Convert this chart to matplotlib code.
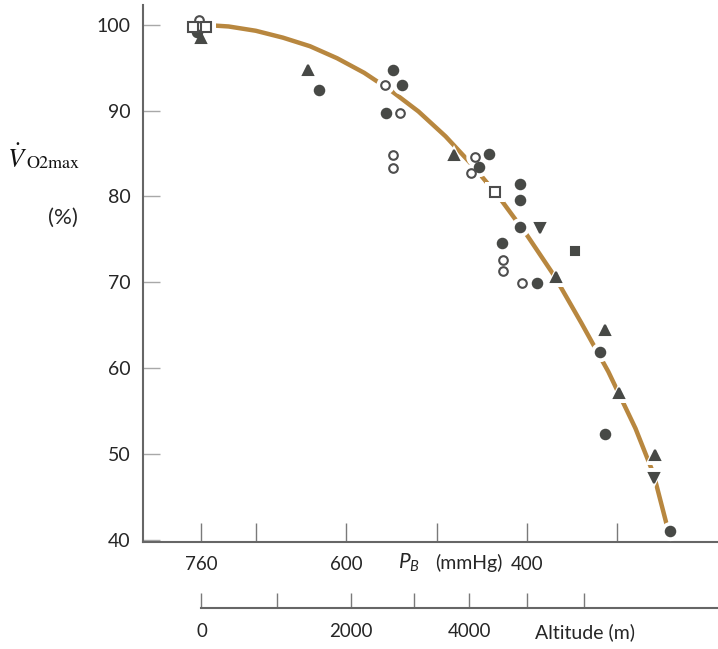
import matplotlib
matplotlib.use("Agg")
import matplotlib.pyplot as plt

plt.rcParams['font.family'] = ['Lato', 'DejaVu Sans']
plt.rcParams['mathtext.fontset'] = 'custom'
plt.rcParams['mathtext.it'] = 'Lato:italic'
plt.rcParams['mathtext.rm'] = 'Lato'
plt.rcParams['mathtext.bf'] = 'Lato:bold'

# Fitted curve: barometric pressure (mmHg) vs VO2max (% of sea-level value)
curve_pb = [760, 730, 700, 670, 640, 610, 580, 550, 520, 490, 460, 430, 400,
            370, 340, 310, 280, 260, 244]
curve_pct = [100.0, 99.8, 99.3, 98.5, 97.5, 96.1, 94.4, 92.3, 89.9, 87.0, 83.6,
             79.8, 75.5, 70.8, 65.3, 59.6, 53.0, 47.7, 41.2]

# Individual study results, grouped by symbol
filled_circle_pb = [765, 630, 548, 538, 556, 442, 453, 408, 408, 408, 428, 389, 319, 314, 242]
filled_circle_pct = [99.1, 92.4, 94.7, 93.0, 89.7, 84.9, 83.4, 81.4, 79.6, 76.4, 74.6,
                     69.9, 61.9, 52.4, 41.0]

open_circle_pb = [763, 763, 557, 540, 548, 548, 457, 462, 426, 426, 406]
open_circle_pct = [100.6, 99.8, 93.0, 89.7, 84.8, 83.3, 84.6, 82.7, 72.6, 71.3, 69.9]

triangle_pb = [761, 642, 481, 368, 314, 298, 258]
triangle_pct = [98.4, 94.7, 84.8, 70.6, 64.5, 57.1, 49.9]

down_triangle_pb = [386, 259]
down_triangle_pct = [76.3, 47.2]

open_square_pb = [769, 755, 435]
open_square_pct = [99.7, 99.7, 80.5]

filled_square_pb = [347]
filled_square_pct = [73.7]

# Axis ticks
pb_ticks = [760, 700, 600, 500, 400, 300]
pb_labels = ['760', '', '600', '', '400', '']
pct_ticks = [40, 50, 60, 70, 80, 90, 100]
alt_ticks_pb = [760, 676, 595, 525, 464, 400, 337]
alt_labels = ['0', '', '2000', '', '4000', '', '']

W, H = 718, 649
fig = plt.figure(figsize=(W / 100, H / 100), dpi=100)

left_px, bottom_px, top_px = 143, 541.7, 5
ax = fig.add_axes([left_px / W, 1 - bottom_px / H, 1 - left_px / W, (bottom_px - top_px) / H])
xlim = (824.7, 188.7)
ax.set_xlim(*xlim)
ax.set_ylim(39.8, 102.3)

axis_grey = '#666666'
text_col = '#262626'
dark = '#474946'
open_edge = '#4d4d4d'
curve_col = '#b8873f'

for s in ['top', 'right']:
    ax.spines[s].set_visible(False)
for s in ['left', 'bottom']:
    ax.spines[s].set_color(axis_grey)
    ax.spines[s].set_linewidth(1.5)

ax.set_xticks(pb_ticks)
ax.set_xticklabels(pb_labels)
ax.set_yticks(pct_ticks)
ax.tick_params(axis='x', direction='in', length=14, width=1.0, color='#7a7a7a',
               pad=10, labelsize=13.5, labelcolor=text_col)
ax.tick_params(axis='y', direction='in', length=12, width=1.0, color='#a8a8a8',
               pad=9, labelsize=14, labelcolor=text_col)

# Curve
ax.plot(curve_pb, curve_pct, color=curve_col, lw=3.2, solid_capstyle='butt',
        solid_joinstyle='round', zorder=2)

groups = [
    (filled_circle_pb, filled_circle_pct, 'o', 6.8, dark, dark),
    (open_circle_pb, open_circle_pct, 'o', 6.2, 'white', open_edge),
    (triangle_pb, triangle_pct, '^', 7.8, dark, dark),
    (down_triangle_pb, down_triangle_pct, 'v', 7.8, dark, dark),
    (open_square_pb, open_square_pct, 's', 7.2, 'white', open_edge),
    (filled_square_pb, filled_square_pct, 's', 6.0, dark, dark),
]

# White halos interrupt the curve around each symbol
for xs, ys, m, ms, fc, ec in groups:
    ax.plot(xs, ys, ls='none', marker=m, ms=ms + 7, mfc='white', mec='white',
            mew=0, zorder=3, clip_on=False)
for xs, ys, m, ms, fc, ec in groups:
    ax.plot(xs, ys, ls='none', marker=m, ms=ms, mfc=fc, mec=ec, mew=1.5,
            zorder=4, clip_on=False)

# Altitude scale beneath the pressure axis
alt_y_px = 608
ax2 = fig.add_axes([left_px / W, 1 - alt_y_px / H, 1 - left_px / W, 0.001])
ax2.set_xlim(*xlim)
ax2.patch.set_visible(False)
for s in ['top', 'right', 'left']:
    ax2.spines[s].set_visible(False)
ax2.spines['bottom'].set_color(axis_grey)
ax2.spines['bottom'].set_linewidth(1.5)
ax2.spines['bottom'].set_bounds(760, xlim[1])
ax2.set_yticks([])
ax2.set_xticks(alt_ticks_pb)
ax2.set_xticklabels(alt_labels)
ax2.tick_params(axis='x', direction='in', length=11, width=1.0, color='#7a7a7a',
                pad=11, labelsize=13.5, labelcolor=text_col)

# Axis titles
fig.text(398 / W, 1 - 563 / H, r'$P_B$', fontsize=15, color=text_col,
         ha='left', va='center')
fig.text(435 / W, 1 - 563 / H, '(mmHg)', fontsize=14, color=text_col,
         ha='left', va='center')
fig.text(535 / W, 1 - 632 / H, 'Altitude (m)', fontsize=14, color=text_col,
         ha='left', va='center')

fig.text(7 / W, 1 - 168 / H, r'$\dot{V}$', fontsize=19, color='#111111',
         math_fontfamily='stix', ha='left', va='baseline')
fig.text(26 / W, 1 - 168 / H, 'O2max', fontsize=13, color='#111111',
         family='STIXGeneral', ha='left', va='baseline')
fig.text(63 / W, 1 - 218 / H, '(%)', fontsize=16, color=text_col,
         ha='center', va='center')

fig.savefig('out.png', dpi=100, facecolor='white')
